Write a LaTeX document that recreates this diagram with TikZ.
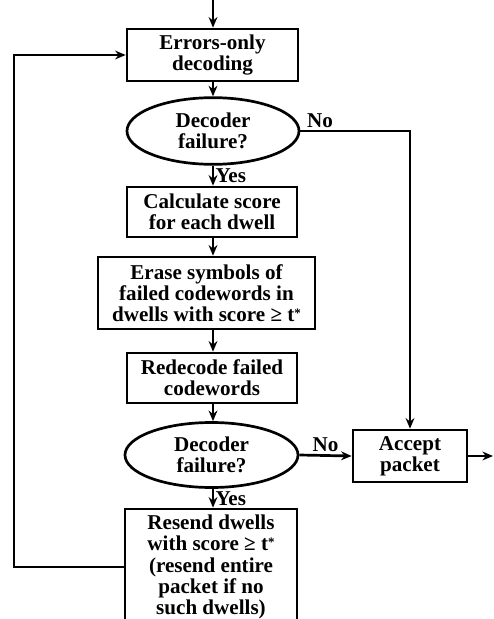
\documentclass[tikz,border=0pt]{standalone}
\usepackage{fontspec}
\setmainfont{Liberation Serif}
\usetikzlibrary{shapes.geometric,arrows.meta}
\newcommand{\tstar}{t\raisebox{0.45ex}{\fontsize{11}{11}\selectfont*}}
\begin{document}
\begin{tikzpicture}[x=0.03cm,y=-0.03cm,line width=2.3pt,
    every node/.style={font=\fontsize{18}{18}\selectfont\bfseries,align=center},
    blk/.style={draw,rectangle,inner sep=0pt},
    ask/.style={draw,ellipse,inner sep=0pt},
    flow/.style={-{Stealth[length=9pt,width=7.5pt]}}]
      \useasboundingbox (0,0) rectangle (493,619);
      \coordinate (in) at (213,0);
      \coordinate (out) at (493,456);
      \node[blk,minimum width=5.13cm,minimum height=1.56cm] (errdec) at (212.5,55) {Errors-only\\decoding};
      \node[ask,minimum width=5.16cm,minimum height=2.0cm] (fail1) at (213,131) {Decoder\\failure?};
      \node[blk,minimum width=5.1cm,minimum height=1.5cm] (calc) at (212,212) {Calculate score\\for each dwell};
      \node[blk,minimum width=6.51cm,minimum height=2.16cm] (erase) at (206.5,293)
        {Erase symbols of\\failed codewords in\\dwells with score ≥\ \tstar};
      \node[blk,minimum width=5.1cm,minimum height=1.5cm] (redec) at (212,378) {Redecode failed\\codewords};
      \node[ask,minimum width=5.19cm,minimum height=1.95cm] (fail2) at (211.5,455) {Decoder\\failure?};
      \node[blk,minimum width=3.42cm,minimum height=1.56cm] (accept) at (410,456) {Accept\\packet};
      \node[blk,minimum width=5.16cm,minimum height=3.48cm] (resend) at (211,567)
        {Resend dwells\\with score ≥\ \tstar\\(resend entire\\packet if no\\such dwells)};
      \draw[flow] (in) -- (errdec.north -| in);
      \draw[flow] (errdec.south -| in) -- (fail1.north);
      \draw[flow] (fail1.south) -- node[midway,right,inner sep=1pt]{Yes} (calc.north -| fail1.south);
      \draw[flow] (calc.south -| in) -- (erase.north -| in);
      \draw[flow] (erase.south -| in) -- (redec.north -| in);
      \draw[flow] (redec.south -| in) -- (fail2.north -| in);
      \draw[flow] (fail2.south -| in) -- node[midway,right,inner sep=1pt]{Yes} (resend.north -| in);
      \draw[flow] (fail1.east) -| node[pos=0.09,above,inner sep=2pt]{No} (accept.north);
      \draw[flow] (fail2.east) -- node[midway,above,inner sep=2pt]{No} (accept.west);
      \draw[flow] (accept.east) -- (out);
      \draw[flow] (resend.west) -- (14,567) |- (errdec.west);
    \end{tikzpicture}
\end{document}
